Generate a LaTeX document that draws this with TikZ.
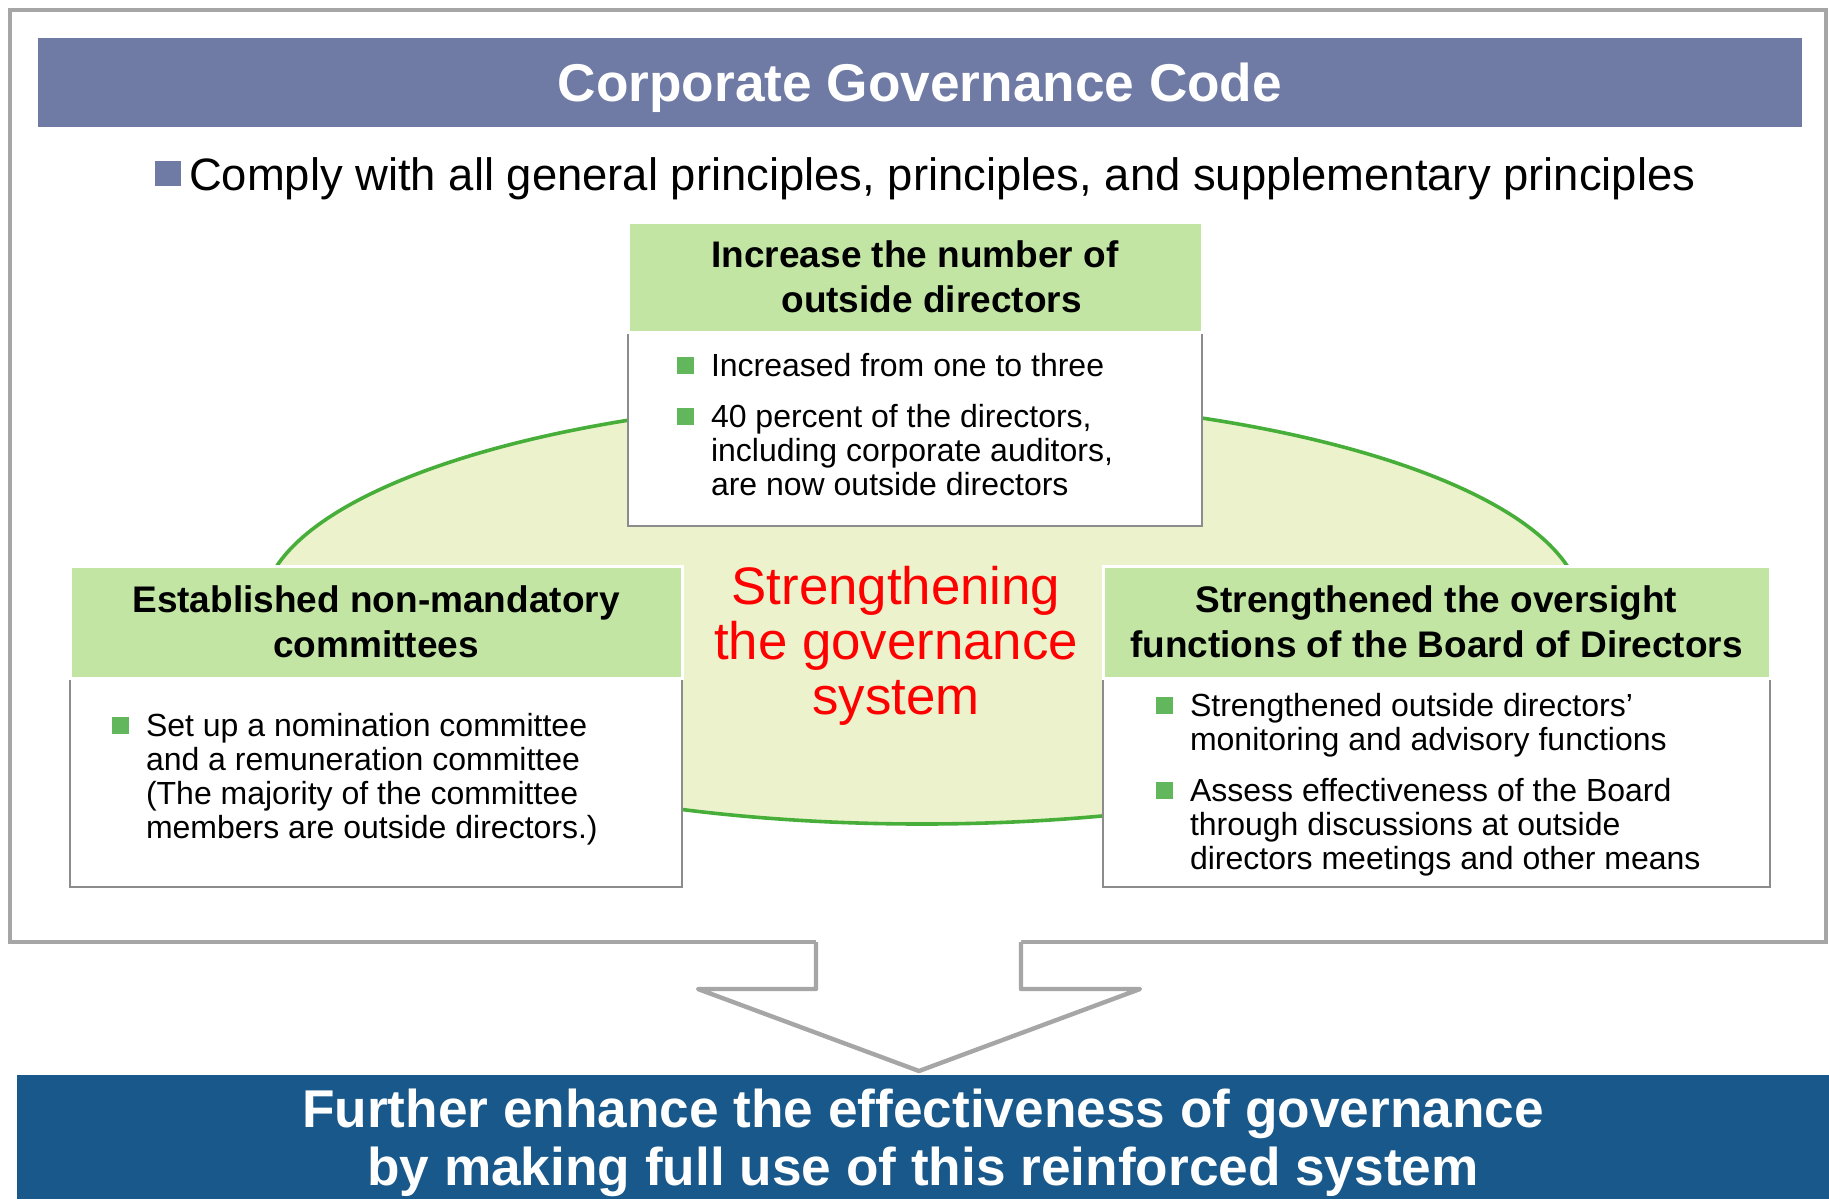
\documentclass[tikz,border=0pt]{standalone}
\usepackage{fontspec}
\setmainfont{Liberation Sans}
\usetikzlibrary{positioning, shapes.geometric}

\definecolor{codeblue}{RGB}{111,123,165}
\definecolor{barblue}{RGB}{24,88,139}
\definecolor{headgreen}{RGB}{194,229,164}
\definecolor{ovalfill}{RGB}{236,243,204}
\definecolor{ovalline}{RGB}{72,174,58}
\definecolor{bulgreen}{RGB}{98,182,92}
\definecolor{framegray}{RGB}{166,166,166}
\definecolor{boxgray}{RGB}{140,140,140}

\newcommand{\gsq}{\textcolor{bulgreen}{\raisebox{1pt}{\rule{8.5pt}{8.5pt}}}}

\begin{document}
\begin{tikzpicture}[x=0.5pt, y=-0.5pt, outer sep=0pt,
    headbox/.style={fill=headgreen, draw=white, line width=1.5pt, inner sep=0pt,
        font=\fontsize{18.5}{22.25}\selectfont\bfseries, align=center},
    bodybox/.style={fill=white, draw=boxgray, line width=1pt, inner sep=0pt},
    itemlist/.style={inner sep=0pt, anchor=base west, font=\fontsize{16}{17}\selectfont}]
    \useasboundingbox (0,0) rectangle (1829,1199);

    % frame, title and the first line
    \node[draw=framegray, line width=2pt, minimum width=908pt, minimum height=466pt,
        anchor=north west] (frame) at (10,10) {};
    \node[fill=codeblue, minimum width=882pt, minimum height=44.5pt, anchor=north west,
        inner sep=0pt, text=white, font=\fontsize{26.6}{30}\selectfont\bfseries,
        text height=19pt, text depth=0pt] (code) at (38,38) {Corporate Governance Code};
    \node[anchor=base west, inner sep=0pt, font=\fontsize{22.7}{27}\selectfont] (comply) at (155,190)
        {\textcolor{codeblue}{\raisebox{2pt}{\rule{13pt}{12.5pt}}}\hspace{4pt}Comply with all general principles, principles, and supplementary principles};

    % oval behind the boxes
    \node[ellipse, fill=ovalfill, draw=ovalline, line width=1.8pt, inner sep=0pt,
        minimum width=660pt, minimum height=213pt] (oval) at (922,611) {};

    % top box
    \node[bodybox, minimum width=287pt, minimum height=97pt, anchor=north west] (topbody) at (628,332) {};
    \node[headbox, minimum width=287pt, minimum height=55pt, align=left, above=0pt of topbody] (tophead)
        {Increase the number of\\\hspace*{35pt}outside directors};
    \node[itemlist] (toplist) at (677,376) {\begin{tabular}[t]{@{}l@{\hspace{8.5pt}}l@{}}
        \gsq & Increased from one to three\\[8.5pt]
        \gsq & 40 percent of the directors,\\
             & including corporate auditors,\\
             & are now outside directors
        \end{tabular}};

    % left box
    \node[bodybox, minimum width=306pt, minimum height=104.5pt, anchor=north west] (leftbody) at (70,678) {};
    \node[headbox, minimum width=306pt, minimum height=56pt, above=0pt of leftbody] (lefthead)
        {Established non-mandatory\\committees};
    \node[itemlist] (leftlist) at (112,736) {\begin{tabular}[t]{@{}l@{\hspace{8.5pt}}l@{}}
        \gsq & Set up a nomination committee\\
             & and a remuneration committee\\
             & (The majority of the committee\\
             & members are outside directors.)
        \end{tabular}};

    % right box
    \node[bodybox, minimum width=333.5pt, minimum height=104.5pt, anchor=north west] (rightbody) at (1103,678) {};
    \node[headbox, minimum width=333.5pt, minimum height=56pt, above=0pt of rightbody] (righthead)
        {Strengthened the oversight\\functions of the Board of Directors};
    \node[itemlist] (rightlist) at (1156,716) {\begin{tabular}[t]{@{}l@{\hspace{8.5pt}}l@{}}
        \gsq & Strengthened outside directors’\\
             & monitoring and advisory functions\\[8.5pt]
        \gsq & Assess effectiveness of the Board\\
             & through discussions at outside\\
             & directors meetings and other means
        \end{tabular}};

    % centre text
    \node[text=red, font=\fontsize{26.4}{27.5}\selectfont, align=center, inner sep=0pt] (strength) at (896,646)
        {Strengthening\\the governance\\system};

    % arrow down to the result
    \fill[white] (816,936) -- (816,989) -- (698,989) -- (919,1071) -- (1140,989) -- (1021,989) -- (1021,936) -- cycle;
    \draw[framegray, line width=2.2pt, line join=round]
        (816,942) -- (816,989) -- (698,989) -- (919,1071) -- (1140,989) -- (1021,989) -- (1021,942);

    \node[fill=barblue, minimum width=906pt, minimum height=62pt, anchor=north west, inner sep=0pt,
        text=white, font=\fontsize{26.6}{29}\selectfont\bfseries, align=center, text depth=0pt] (further) at (17,1075)
        {Further enhance the effectiveness of governance\\by making full use of this reinforced system};
\end{tikzpicture}
\end{document}
